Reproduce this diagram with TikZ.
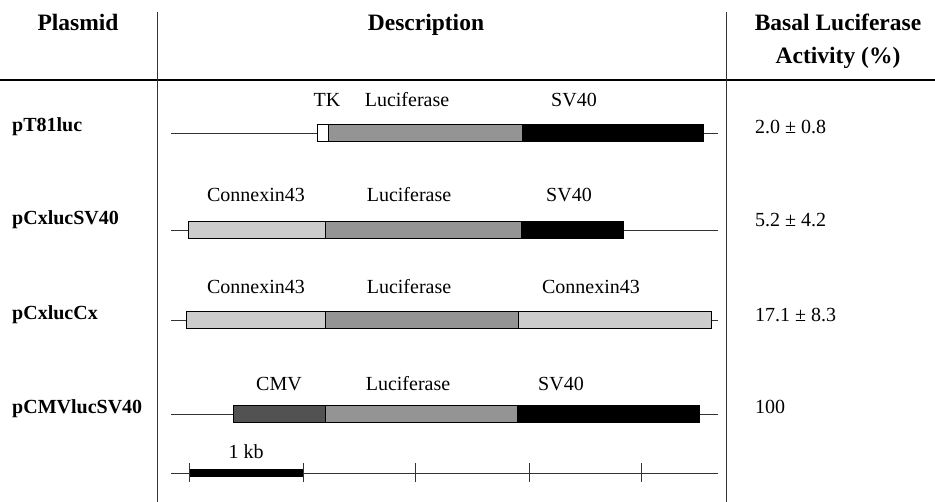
\documentclass[tikz,border=0pt]{standalone}
\usepackage{fontspec}
\setmainfont{Liberation Serif}
\begin{document}
\begin{tikzpicture}[x=1pt, y=-1pt,
    txt/.style={font=\fontsize{20}{24}\selectfont, inner sep=0pt, anchor=base},
    head/.style={txt, font=\fontsize{23.5}{28}\selectfont\bfseries},
    plas/.style={txt, font=\fontsize{20}{24}\selectfont\bfseries, anchor=base west},
    val/.style={txt, anchor=base west},
    dna/.style={black!80, line width=0.8pt},
    seg/.style={draw=black, line width=0.6pt},
    cx/.style={seg, fill=black!20},
    luc/.style={seg, fill=black!42},
    cmv/.style={seg, fill=black!68},
    sv/.style={seg, fill=black},
    tk/.style={seg, fill=white}]
    % 0. canvas
    \useasboundingbox (0,0) rectangle (935,502);

    % 1. table header and rules
    \node[head] (hplas) at (78,31) {Plasmid};
    \node[head] (hdesc) at (426,31) {Description};
    \node[head] (hact) at (838,31) {Basal Luciferase};
    \node[head] (hpct) at (838,64) {Activity (\%)};
    \draw[line width=1.4pt] (0,80) -- (935,80);
    \draw[black!80, line width=0.8pt] (157,12) -- (157,502);
    \draw[black!80, line width=0.8pt] (726,12) -- (726,502);

    % 2. plasmid names and activities
    \foreach \y/\v/\p/\a [count=\i] in {132/134/pT81luc/{2.0 ± 0.8},
                                      225/227/pCxlucSV40/{5.2 ± 4.2},
                                      320/322/pCxlucCx/{17.1 ± 8.3},
                                      414/414/pCMVlucSV40/100} {
        \node[plas] (p\i) at (12,\y) {\p};
        \node[val] (v\i) at (755,\v) {\a};
    }

    % 3. vector backbones (and scale line)
    \foreach \y in {133,230,320,414,473}
        \draw[dna] (171,\y) -- (718,\y);

    % 4. pT81luc
    \draw[tk]  (317,124.5) rectangle (328,141.5);
    \draw[luc] (328,124.5) rectangle (522,141.5);
    \draw[sv]  (522,124.5) rectangle (703,141.5);
    \node[txt] (tk1)  at (327,107) {TK};
    \node[txt] (luc1) at (407,107) {Luciferase};
    \node[txt] (sv1)  at (574,107) {SV40};

    % 5. pCxlucSV40
    \draw[cx]  (188,221.5) rectangle (325,238.5);
    \draw[luc] (325,221.5) rectangle (521,238.5);
    \draw[sv]  (521,221.5) rectangle (623,238.5);
    \node[txt] (cx2)  at (256,202) {Connexin43};
    \node[txt] (luc2) at (409,202) {Luciferase};
    \node[txt] (sv2)  at (569,202) {SV40};

    % 6. pCxlucCx
    \draw[cx]  (186,311.5) rectangle (325,328.5);
    \draw[luc] (325,311.5) rectangle (518,328.5);
    \draw[cx]  (518,311.5) rectangle (711,328.5);
    \node[txt] (cx3)  at (256,294) {Connexin43};
    \node[txt] (luc3) at (409,294) {Luciferase};
    \node[txt] (cxb3) at (591,294) {Connexin43};

    % 7. pCMVlucSV40
    \draw[cmv] (233,405.5) rectangle (325,422.5);
    \draw[luc] (325,405.5) rectangle (517,422.5);
    \draw[sv]  (517,405.5) rectangle (699,422.5);
    \node[txt] (cmv4) at (279,391) {CMV};
    \node[txt] (luc4) at (408,391) {Luciferase};
    \node[txt] (sv4)  at (561,391) {SV40};

    % 8. scale bar, 1 kb per tick
    \fill (189,469) rectangle (303,477);
    \foreach \x in {189,303,415,529,641}
        \draw[black!80, line width=0.8pt] (\x,463) -- (\x,482);
    \node[txt] (kb) at (246,459) {1 kb};
\end{tikzpicture}
\end{document}
